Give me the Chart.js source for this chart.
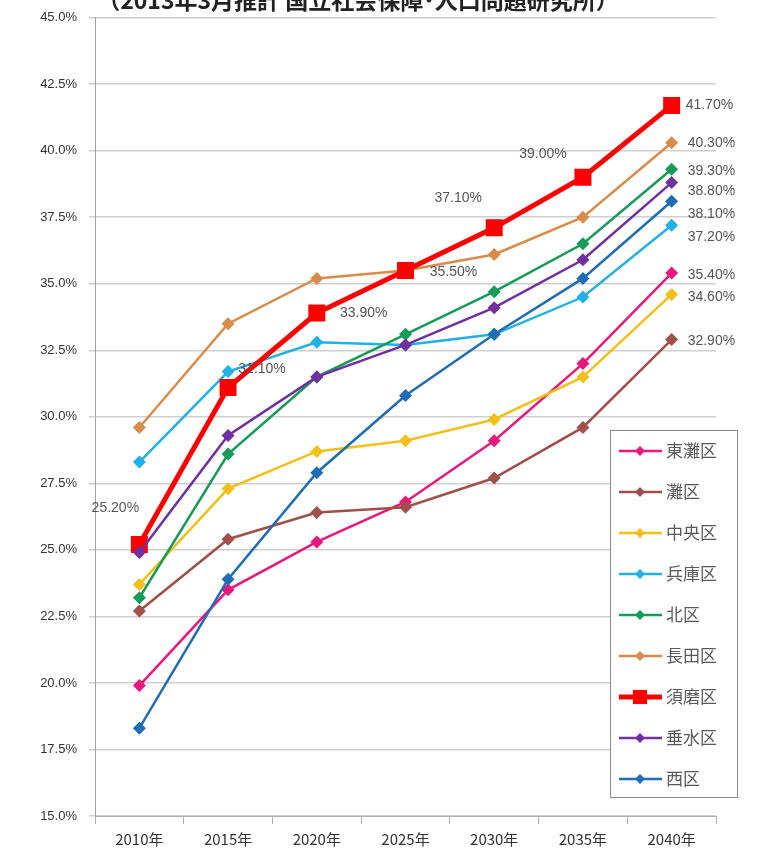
<!DOCTYPE html>
<html>
<head>
<meta charset="utf-8">
<script src="https://cdn.jsdelivr.net/npm/chart.js@4.4.0/dist/chart.umd.min.js"></script>
<style>
  html, body { margin: 0; padding: 0; background: #fff; overflow: hidden; }
  #wrap { position: absolute; left: 0; top: -20px; width: 774px; height: 874px; }
</style>
</head>
<body>
<div id="wrap"><canvas id="chart"></canvas></div>
<script>
// 神戸市 区別 高齢化率の将来推計
const years = ['2010年', '2015年', '2020年', '2025年', '2030年', '2035年', '2040年'];
const wards = ['東灘区', '灘区', '中央区', '兵庫区', '北区', '長田区', '須磨区', '垂水区', '西区'];
const wardColors = ['#e8197c', '#a0504a', '#f2c01a', '#22b0e8', '#169c58', '#d98b4c', '#ff0000', '#7030a0', '#1f6db4'];

const higashinada = [19.9, 23.5, 25.3, 26.8, 29.1, 32.0, 35.4];
const nada        = [22.7, 25.4, 26.4, 26.6, 27.7, 29.6, 32.9];
const chuo        = [23.7, 27.3, 28.7, 29.1, 29.9, 31.5, 34.6];
const hyogo       = [28.3, 31.7, 32.8, 32.7, 33.1, 34.5, 37.2];
const kita        = [23.2, 28.6, 31.5, 33.1, 34.7, 36.5, 39.3];
const nagata      = [29.6, 33.5, 35.2, 35.5, 36.1, 37.5, 40.3];
const suma        = [25.2, 31.1, 33.9, 35.5, 37.1, 39.0, 41.7];
const tarumi      = [24.9, 29.3, 31.5, 32.7, 34.1, 35.9, 38.8];
const nishi       = [18.3, 23.9, 27.9, 30.8, 33.1, 35.2, 38.1];
const series = [higashinada, nada, chuo, hyogo, kita, nagata, suma, tarumi, nishi];

const yMin = 15, yMax = 45, yStep = 2.5;
const SUMA = 6;

// label offsets (px) for 須磨区 points, and for the 2040 end labels
const sumaLabelOffsets = [[-24, -36], [34, -18], [47, 0], [48, 2], [-36, -30], [-40, -23], [14, 0]];
const endLabelDy = [2, 2, 3, 12, 2, 0, 0, 9, 13];

const fontJP = '"Noto Sans CJK JP", "Noto Sans", sans-serif';

const datasets = wards.map((name, i) => {
    const isSuma = i === SUMA;
    return {
        label: name,
        data: series[i],
        borderColor: wardColors[i],
        backgroundColor: wardColors[i],
        borderWidth: isSuma ? 5 : 2.5,
        pointStyle: isSuma ? 'rect' : 'rectRot',
        pointRadius: isSuma ? 12 : 6.5,
        pointHoverRadius: isSuma ? 12 : 6.5,
        pointBorderWidth: 0,
        tension: 0,
        order: wards.length - i
    };
});

const valueLabels = {
    id: 'valueLabels',
    afterDatasetsDraw(chart) {
        const ctx = chart.ctx;
        ctx.save();
        ctx.font = '14px "Liberation Sans", Arial, sans-serif';
        ctx.fillStyle = '#555';
        ctx.textBaseline = 'middle';
        chart.data.datasets.forEach((ds, i) => {
            const pts = chart.getDatasetMeta(i).data;
            if (i === SUMA) {
                pts.forEach((p, j) => {
                    const [dx, dy] = sumaLabelOffsets[j];
                    ctx.textAlign = j === pts.length - 1 ? 'left' : 'center';
                    ctx.fillText(ds.data[j].toFixed(2) + '%', p.x + dx, p.y + dy);
                });
            } else {
                const p = pts[pts.length - 1];
                ctx.textAlign = 'left';
                ctx.fillText(ds.data[ds.data.length - 1].toFixed(2) + '%', p.x + 16, p.y + endLabelDy[i]);
            }
        });
        ctx.restore();
    }
};

function drawMarker(ctx, style, x, y, r) {
    ctx.beginPath();
    if (style === 'rect') {
        const s = r * Math.SQRT1_2;
        ctx.rect(x - s, y - s, 2 * s, 2 * s);
    } else {
        ctx.moveTo(x, y - r);
        ctx.lineTo(x + r, y);
        ctx.lineTo(x, y + r);
        ctx.lineTo(x - r, y);
        ctx.closePath();
    }
    ctx.fill();
}

const boxLegend = {
    id: 'boxLegend',
    afterDraw(chart) {
        const ctx = chart.ctx;
        const left = 610, top = 450, w = 127, h = 367, rowH = 41;
        ctx.save();
        ctx.fillStyle = '#fff';
        ctx.fillRect(left, top, w, h);
        ctx.strokeStyle = '#8c8c8c';
        ctx.lineWidth = 1;
        ctx.strokeRect(left + 0.5, top + 0.5, w, h);
        ctx.font = '17px ' + fontJP;
        ctx.textBaseline = 'middle';
        ctx.textAlign = 'left';
        chart.data.datasets.forEach((ds, i) => {
            const y = top + 21 + i * rowH;
            ctx.strokeStyle = ds.borderColor;
            ctx.lineWidth = i === SUMA ? 5 : 2.5;
            ctx.beginPath();
            ctx.moveTo(left + 9, y);
            ctx.lineTo(left + 52, y);
            ctx.stroke();
            ctx.fillStyle = ds.backgroundColor;
            drawMarker(ctx, ds.pointStyle, left + 30, y, i === SUMA ? 10 : 5);
            ctx.fillStyle = '#595959';
            ctx.fillText(ds.label, left + 56, y);
        });
        ctx.restore();
    }
};

new Chart(document.getElementById('chart'), {
    type: 'line',
    data: { labels: years, datasets: datasets },
    options: {
        responsive: true,
        maintainAspectRatio: false,
        animation: false,
        layout: { padding: { left: 0, right: 58, top: 0, bottom: 0 } },
        plugins: {
            legend: { display: false },
            tooltip: { enabled: false },
            title: {
                display: true,
                text: '（2013年3月推計 国立社会保障･人口問題研究所）',
                color: '#222',
                font: { family: fontJP, size: 23, weight: 'bold' },
                padding: { top: 6, bottom: 4 }
            }
        },
        scales: {
            x: {
                offset: true,
                grid: { offset: true, drawOnChartArea: false, drawTicks: true, tickLength: 8, color: '#b0b0b0' },
                border: { color: '#b0b0b0' },
                ticks: { color: '#333', font: { family: fontJP, size: 15 }, padding: 6, maxRotation: 0 },
                afterFit(scale) { scale.height = 38; }
            },
            y: {
                min: yMin,
                max: yMax,
                ticks: {
                    stepSize: yStep,
                    color: '#333',
                    padding: 12,
                    font: { family: '"Liberation Sans", Arial, sans-serif', size: 13 },
                    callback: v => v.toFixed(1) + '%'
                },
                grid: { color: '#cfcfcf', lineWidth: 1.5, tickLength: 6 },
                border: { color: '#a0a0a0' },
                afterFit(scale) { scale.width = 95; }
            }
        }
    },
    plugins: [valueLabels, boxLegend]
});
</script>
</body>
</html>
